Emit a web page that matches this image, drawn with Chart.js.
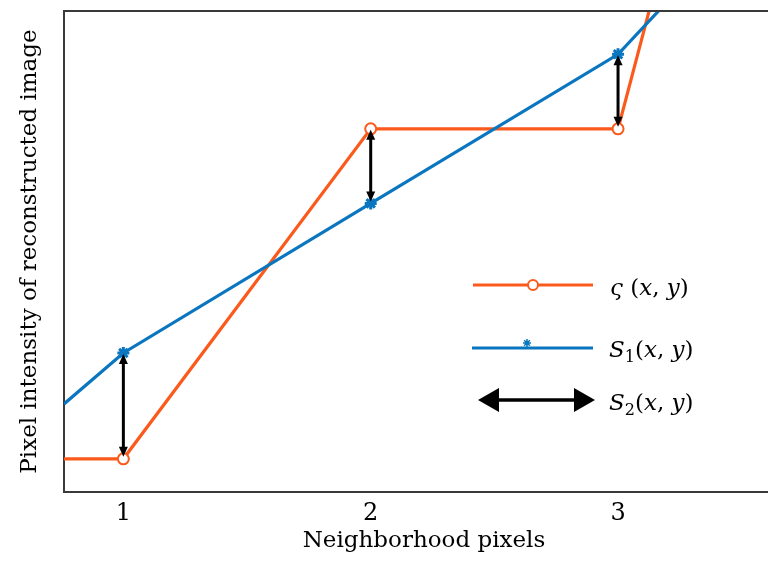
<!DOCTYPE html>
<html>
<head>
<meta charset="utf-8">
<script src="https://cdn.jsdelivr.net/npm/chart.js@4.4.0/dist/chart.umd.min.js"></script>
<style>
  html, body { margin: 0; padding: 0; background: #fff; overflow: hidden; }
</style>
</head>
<body>
<canvas id="pixelChart" width="784" height="565"></canvas>
<script>
// Neighborhood pixel positions and intensities (arbitrary units 0-10)
const xPositions = [0.76, 1, 2, 3, 3.2];
const zetaValues = [0.69, 0.69, 7.55, 7.55, 11.45];
const s1Values = [1.83, 2.89, 6.0, 9.1, 10.2];
const markerShown = [false, true, true, true, false];
const arrowIndices = [1, 2, 3]; // where the S2 difference arrows sit
const tickValues = [1, 2, 3];
const tickLabels = ['1', '2', '3'];

const ORANGE = '#FB5A1C';
const BLUE = '#0A76C0';
const AXIS = '#3a3a3a';
const SERIF = "'DejaVu Serif', serif";

function toPoints(values) {
  return values.map((v, i) => ({ x: xPositions[i], y: v }));
}

// double-headed arrow between two points
function doubleArrow(ctx, x1, y1, x2, y2, headLen, headHalf, width) {
  const dx = x2 - x1, dy = y2 - y1;
  const len = Math.hypot(dx, dy);
  const ux = dx / len, uy = dy / len;
  const nx = -uy, ny = ux;
  ctx.save();
  ctx.strokeStyle = '#000';
  ctx.fillStyle = '#000';
  ctx.lineWidth = width;
  ctx.beginPath();
  ctx.moveTo(x1 + ux * headLen * 0.8, y1 + uy * headLen * 0.8);
  ctx.lineTo(x2 - ux * headLen * 0.8, y2 - uy * headLen * 0.8);
  ctx.stroke();
  [[x1, y1, 1], [x2, y2, -1]].forEach(([px, py, s]) => {
    ctx.beginPath();
    ctx.moveTo(px, py);
    ctx.lineTo(px + s * ux * headLen + nx * headHalf, py + s * uy * headLen + ny * headHalf);
    ctx.lineTo(px + s * ux * headLen - nx * headHalf, py + s * uy * headLen - ny * headHalf);
    ctx.closePath();
    ctx.fill();
  });
  ctx.restore();
}

// draws text made of plain / italic / subscript pieces
function richText(ctx, parts, x, y, size) {
  ctx.save();
  ctx.fillStyle = '#000';
  ctx.textBaseline = 'alphabetic';
  let cx = x;
  parts.forEach(p => {
    const s = p.sub ? size * 0.7 : size;
    ctx.font = (p.italic ? 'italic ' : '') + s + 'px ' + SERIF;
    ctx.fillText(p.t, cx, p.sub ? y + size * 0.22 : y);
    cx += ctx.measureText(p.t).width;
  });
  ctx.restore();
}

const xyParts = [
  { t: '(' }, { t: 'x', italic: true }, { t: ', ' }, { t: 'y', italic: true }, { t: ')' }
];

const overlayPlugin = {
  id: 'overlay',
  afterDatasetsDraw(chart) {
    const ctx = chart.ctx;
    const area = chart.chartArea;
    const xs = chart.scales.x, ys = chart.scales.y;

    // top frame line
    ctx.save();
    ctx.strokeStyle = AXIS;
    ctx.lineWidth = 2;
    ctx.beginPath();
    ctx.moveTo(area.left - 1, area.top);
    ctx.lineTo(area.right, area.top);
    ctx.stroke();
    ctx.restore();

    // S2 arrows between the two curves
    arrowIndices.forEach(i => {
      const px = xs.getPixelForValue(xPositions[i]);
      const a = ys.getPixelForValue(s1Values[i]);
      const b = ys.getPixelForValue(zetaValues[i]);
      const top = Math.min(a, b), bottom = Math.max(a, b);
      doubleArrow(ctx, px, top + 1, px, bottom - 2, 10, 4.5, 3);
    });

    // legend
    ctx.save();
    ctx.lineWidth = 3.2;
    ctx.strokeStyle = ORANGE;
    ctx.beginPath();
    ctx.moveTo(473, 285);
    ctx.lineTo(593, 285);
    ctx.stroke();
    ctx.fillStyle = '#fff';
    ctx.lineWidth = 2;
    ctx.beginPath();
    ctx.arc(533, 285, 5, 0, Math.PI * 2);
    ctx.fill();
    ctx.stroke();

    ctx.lineWidth = 3.2;
    ctx.strokeStyle = BLUE;
    ctx.beginPath();
    ctx.moveTo(472, 348);
    ctx.lineTo(593, 348);
    ctx.stroke();
    ctx.lineWidth = 1.5;
    const sx = 527, sy = 343, r = 4;
    ctx.beginPath();
    for (let k = 0; k < 4; k++) {
      const ang = k * Math.PI / 4;
      ctx.moveTo(sx - r * Math.cos(ang), sy - r * Math.sin(ang));
      ctx.lineTo(sx + r * Math.cos(ang), sy + r * Math.sin(ang));
    }
    ctx.stroke();
    ctx.restore();

    doubleArrow(ctx, 478, 400, 595, 400, 21, 12, 3.5);

    richText(ctx, [{ t: 'ς', italic: true }, { t: ' ' }].concat(xyParts), 610, 295, 23);
    richText(ctx, [{ t: 'S', italic: true }, { t: '1', sub: true }].concat(xyParts), 609, 357, 23);
    richText(ctx, [{ t: 'S', italic: true }, { t: '2', sub: true }].concat(xyParts), 609, 410, 23);
  }
};

new Chart(document.getElementById('pixelChart'), {
  type: 'line',
  data: {
    datasets: [
      {
        label: 'zeta',
        data: toPoints(zetaValues),
        borderColor: ORANGE,
        borderWidth: 3.2,
        backgroundColor: '#fff',
        pointStyle: 'circle',
        pointRadius: markerShown.map(m => m ? 5.5 : 0),
        pointBorderWidth: 2,
        pointBorderColor: ORANGE,
        pointBackgroundColor: '#fff',
        clip: 0,
        order: 2
      },
      {
        label: 'S1',
        data: toPoints(s1Values),
        borderColor: BLUE,
        borderWidth: 3.2,
        pointStyle: 'star',
        pointRadius: markerShown.map(m => m ? 6 : 0),
        pointBorderWidth: 3,
        pointBorderColor: BLUE,
        pointBackgroundColor: BLUE,
        clip: 0,
        order: 1
      }
    ]
  },
  options: {
    responsive: false,
    animation: false,
    layout: { padding: { top: 11, right: 0, left: 0, bottom: 0 } },
    scales: {
      x: {
        type: 'linear',
        min: 0.76,
        max: 3.671,
        afterFit(scale) { scale.height = 73; },
        afterBuildTicks(scale) { scale.ticks = tickValues.map(v => ({ value: v })); },
        grid: { display: false, drawTicks: false },
        border: { display: true, color: AXIS, width: 2 },
        ticks: {
          color: '#000',
          padding: 7,
          font: { family: SERIF, size: 24 },
          callback: (v) => tickLabels[tickValues.indexOf(v)]
        },
        title: {
          display: true,
          text: 'Neighborhood pixels',
          color: '#000',
          font: { family: SERIF, size: 23 },
          padding: { top: 0, bottom: 10 }
        }
      },
      y: {
        type: 'linear',
        min: 0,
        max: 10,
        afterFit(scale) { scale.width = 64; },
        grid: { display: false, drawTicks: false },
        border: { display: true, color: AXIS, width: 2 },
        ticks: { display: false },
        title: {
          display: true,
          text: 'Pixel intensity of reconstructed image',
          color: '#000',
          font: { family: SERIF, size: 23 },
          padding: { top: 16, bottom: 0 }
        }
      }
    },
    plugins: {
      legend: { display: false },
      tooltip: { enabled: false }
    }
  },
  plugins: [overlayPlugin]
});
</script>
</body>
</html>
